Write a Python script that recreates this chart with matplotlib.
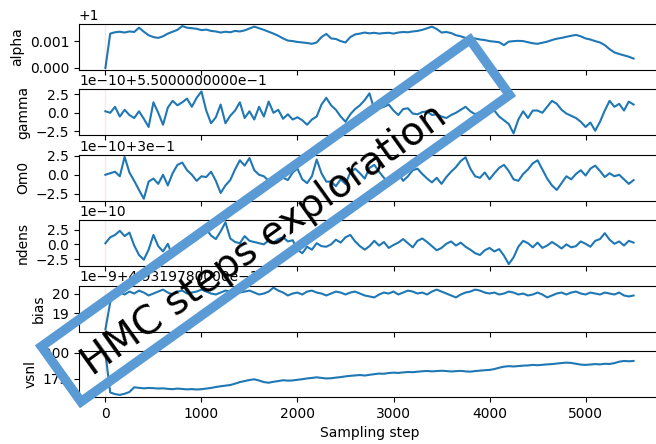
import math
import numpy as np
import matplotlib
matplotlib.use("Agg")
import matplotlib.pyplot as plt
from matplotlib.patches import Rectangle
from matplotlib.ticker import ScalarFormatter
from matplotlib.transforms import Affine2D

# sampling step grid (one value read every 50 steps)
steps = np.arange(0, 5501, 50)

alpha = [0.0, 0.00128, 0.00133, 0.00135, 0.00132, 0.00136, 0.00134, 0.00150, 0.00135, 0.00122,
         0.00115, 0.00112, 0.00118, 0.00128, 0.00135, 0.00142, 0.00156, 0.00150, 0.00148, 0.00146,
         0.00141, 0.00143, 0.00138, 0.00136, 0.00132, 0.00135, 0.00133, 0.00138, 0.00136, 0.00140,
         0.00147, 0.00154, 0.00148, 0.00142, 0.00135, 0.00128, 0.00120, 0.00110, 0.00102, 0.00100,
         0.00097, 0.00095, 0.00093, 0.00090, 0.00095, 0.00115, 0.00127, 0.00110, 0.00108, 0.00100,
         0.00095, 0.00115, 0.00125, 0.00128, 0.00132, 0.00129, 0.00131, 0.00128, 0.00130, 0.00131,
         0.00128, 0.00132, 0.00134, 0.00133, 0.00136, 0.00138, 0.00142, 0.00148, 0.00154, 0.00145,
         0.00132, 0.00134, 0.00130, 0.00122, 0.00118, 0.00112, 0.00108, 0.00110, 0.00106, 0.00104,
         0.00100, 0.00098, 0.00096, 0.00085, 0.00098, 0.00100, 0.00101, 0.00100, 0.00096, 0.00092,
         0.00090, 0.00094, 0.00098, 0.00104, 0.00109, 0.00112, 0.00116, 0.00120, 0.00123, 0.00118,
         0.00110, 0.00106, 0.00100, 0.00095, 0.00085, 0.00070, 0.00058, 0.00052, 0.00047, 0.00042,
         0.00035]

# gamma, Om0, ndens in units of 1e-10, bias in units of 1e-9
gamma = [0.2, 0.0, 0.8, -0.5, 0.4, -0.3, -0.7, 0.2, -0.8, -1.9,
         1.4, 0.0, -1.6, 0.7, 1.6, 1.0, 1.4, 1.9, 0.8, 2.0,
         2.85, 0.3, -1.4, -0.6, 1.1, -1.4, -0.4, 0.3, 1.4, -0.7,
         0.2, -0.9, 0.8, -0.5, 1.5, 0.0, 0.4, -0.8, -0.2, -0.9,
         -0.6, -1.0, -1.6, -0.9, -0.5, 1.1, 2.0, 1.0, 0.4, -0.5,
         -1.2, -0.2, 0.5, 1.0, 1.7, 2.6, 0.4, 0.6, 0.8, 1.1,
         0.3, -0.3, 0.5, 0.6, -0.1, -0.2, 0.1, 0.2, -0.3, -0.2,
         -0.5, -0.7, -0.3, 0.0, 0.4, 0.8, 0.2, -0.2, 0.1, 0.0,
         0.3, 0.3, -0.5, -1.0, -1.5, -2.75, -0.9, 0.2, -0.7, 0.3,
         0.3, 0.0, 0.8, 1.6, 1.2, 0.4, -0.1, -0.4, -0.7, -1.2,
         -1.9, -1.3, -2.4, -1.2, 0.3, 1.6, 0.8, 1.2, 0.3, 1.5,
         1.1]

om0 = [0.0, 0.2, 0.4, -0.2, 2.35, 0.3, -0.8, -2.0, -3.15, -0.9,
       -0.5, -1.2, 0.0, -1.4, 0.2, 1.3, 1.6, 0.6, 0.0, -0.8,
       -0.2, -0.3, 0.4, -0.8, -2.4, -1.4, -0.7, 0.7, 1.9, 1.2,
       2.2, 0.6, 0.0, -0.2, -0.8, -0.3, 0.2, -0.4, -0.7, 0.3,
       0.8, -0.6, -1.1, -0.2, 2.0, 0.2, -0.9, -0.9, -1.5, -0.6,
       -1.2, 0.3, 0.8, 0.2, -0.5, 0.9, 1.3, 0.4, -0.4, -0.9,
       -0.3, 0.2, -0.8, -0.2, 0.6, 0.8, 0.1, -0.5, -1.0, -0.4,
       -1.2, -0.3, 0.4, 1.0, 1.8, 2.3, 0.8, -0.2, -0.4, 0.3,
       -0.6, 0.2, 0.9, 1.3, 0.5, -0.6, -0.8, 0.1, 0.7, 1.5,
       1.9, 0.7, -0.5, -1.4, -2.0, -1.1, -0.2, -0.6, 0.1, 0.6,
       -0.1, 0.8, 1.2, 0.5, -0.3, 0.2, -0.2, 0.0, -0.6, -1.2,
       -0.7]

ndens = [0.2, 1.2, 1.6, 2.3, 1.4, 2.0, -0.2, -1.8, -2.6, -0.9,
         1.6, -0.3, -1.2, 0.1, -2.0, -0.9, -0.4, 0.7, 0.3, 0.8,
         1.5, 2.6, 1.5, 0.9, 2.2, 3.75, 1.0, 0.4, 0.2, 1.4,
         0.6, 0.4, 0.2, 0.0, 0.7, 0.3, 0.9, 1.2, 0.5, 0.7,
         -0.9, -1.5, -0.4, -0.9, 0.2, -0.3, -0.4, 0.0, 0.8, 0.3,
         1.2, 1.6, 0.5, -0.3, -0.9, -0.3, 0.6, -0.2, 0.4, -0.6,
         -0.1, 0.3, 0.9, 0.2, -0.5, 0.6, 1.0, 0.4, -0.3, -1.0,
         -0.6, 0.1, 0.5, -0.2, 0.3, -0.4, -0.9, -1.5, -1.8, -1.0,
         -0.6, -1.2, -0.8, -1.9, -3.35, -2.2, -0.4, 0.6, 0.2, -0.5,
         0.3, -0.6, -0.2, 0.4, -0.1, -0.7, 0.0, -0.5, -0.3, 0.5,
         0.1, -0.4, 0.6, 0.9, 1.9, 0.8, 0.1, 0.5, -0.2, 0.6,
         0.3]

bias = [18.16, 19.55, 19.9, 20.05, 19.95, 20.1, 20.0, 20.15, 20.05, 19.9,
        20.0, 20.1, 20.2, 20.05, 19.95, 20.1, 20.15, 20.0, 20.05, 20.1,
        20.2, 20.1, 20.0, 19.95, 20.05, 20.15, 20.1, 20.0, 20.05, 20.1,
        20.15, 20.05, 19.95, 20.0, 20.1, 20.3, 20.15, 20.05, 19.9, 20.0,
        20.05, 19.95, 20.1, 20.15, 20.05, 20.0, 19.9, 20.0, 20.1, 20.05,
        19.95, 20.05, 20.1, 20.0, 19.9, 19.85, 19.8, 19.95, 20.05, 20.0,
        20.1, 19.95, 20.05, 20.15, 20.1, 20.0, 20.05, 19.95, 20.1, 20.2,
        20.1, 20.0, 19.9, 19.8, 19.95, 20.05, 20.1, 20.2, 20.15, 20.05,
        20.0, 20.05, 19.95, 20.0, 20.1, 20.05, 19.95, 20.0, 19.9, 19.95,
        20.05, 19.95, 19.8, 19.9, 20.0, 20.05, 19.95, 20.05, 20.1, 20.0,
        19.95, 20.05, 20.0, 19.95, 20.05, 20.0, 19.95, 20.05, 19.9, 19.85,
        19.9]

vsnl = [199.9, 162.0, 160.5, 159.7, 160.8, 162.5, 167.0, 166.5, 166.0, 166.4,
        166.2, 165.8, 166.0, 165.5, 165.2, 165.8, 165.4, 165.0, 165.3, 164.9,
        165.2, 165.8, 166.4, 167.3, 168.0, 168.6, 169.2, 170.5, 172.0, 173.0,
        174.0, 174.7, 173.5, 172.0, 171.4, 172.3, 173.0, 173.8, 173.4, 173.6,
        174.2, 174.8, 175.5, 176.0, 176.6, 176.0, 175.5, 175.7, 176.3, 176.8,
        177.5, 178.0, 178.4, 178.8, 178.3, 179.0, 179.6, 180.2, 180.0, 180.7,
        181.1, 180.8, 181.3, 181.7, 181.5, 182.0, 182.4, 182.7, 182.3, 182.6,
        182.9, 182.6, 182.2, 182.5, 182.8, 182.3, 182.0, 182.6, 183.0, 183.4,
        183.7, 184.5, 185.8, 186.8, 187.3, 187.0, 187.4, 187.8, 188.0, 188.5,
        188.2, 188.6, 189.0, 189.3, 189.8, 190.3, 190.7, 190.4, 189.6, 188.8,
        188.5, 188.9, 189.3, 189.0, 189.6, 189.4, 190.2, 191.6, 192.3, 192.0,
        192.3]

names = ["alpha", "gamma", "Om0", "ndens", "bias", "vsnl"]
series = [
    1 + np.array(alpha),
    0.55 + 1e-10 * np.array(gamma),
    0.3 + 1e-10 * np.array(om0),
    1e-10 * np.array(ndens),
    0.4931978 + 1e-9 * np.array(bias),
    np.array(vsnl),
]
offsets = [1.0, 0.55, 0.3, True, 0.4931978, True]


class LongOffsetFormatter(ScalarFormatter):
    # offset written with 10 decimals, e.g. 5.5000000000e-1
    def format_data(self, value):
        e = math.floor(math.log10(abs(value)))
        s = round(value / 10 ** e, 10)
        sig = "%d" % s if s % 1 == 0 else "%1.10f" % s
        if e == 0:
            return sig
        return "%se%d" % (sig, e)


fig, axes = plt.subplots(6, 1, sharex=True, figsize=(6.56, 4.44), dpi=100)
fig.subplots_adjust(left=79 / 656, right=660 / 656, top=1 - 24 / 444,
                    bottom=1 - 397 / 444, hspace=0.42)

for ax, name, vals, off in zip(axes, names, series, offsets):
    ax.plot(steps, vals, color="C0")
    ax.axvline(0, color="red", alpha=0.1, lw=1)
    ax.set_ylabel(name)
    ax.yaxis.set_major_formatter(LongOffsetFormatter(useOffset=off))

axes[-1].set_xlabel("Sampling step")

# frame around the stamp text (sizes in inches, rotated about its centre)
cx, cy = 275.5 / 100, (444 - 220.7) / 100
w, h = 5.27, 0.68
frame = Rectangle((cx - w / 2, cy - h / 2), w, h, fill=False,
                  edgecolor="#5b9bd5", linewidth=6.8, joinstyle="miter",
                  transform=Affine2D().rotate_deg_around(cx, cy, 35.6) + fig.dpi_scale_trans,
                  zorder=5)
fig.patches.append(frame)

fig.text(264 / 656, 1 - 240 / 444, "HMC steps exploration", fontsize=28,
         rotation=35.6, ha="center", va="center", color="black", zorder=6)

fig.savefig("out.png", dpi=100)
